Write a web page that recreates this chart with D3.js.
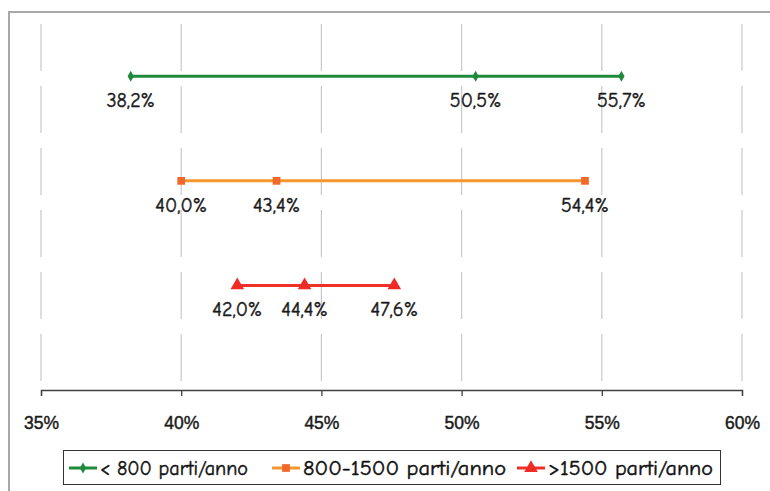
<!DOCTYPE html>
<html><head><meta charset="utf-8">
<script src="https://cdn.jsdelivr.net/npm/d3@7"></script>
<style>
body{margin:0;background:#fff;}
svg{display:block;font-family:"Comic Sans MS","Comic Neue","DejaVu Sans",sans-serif;}
</style></head>
<body><svg id="c" width="770" height="491"></svg>
<script>
const seriesNames = ["< 800 parti/anno", "800-1500 parti/anno", ">1500 parti/anno"];
const seriesRows = [3, 2, 1];
const values1 = [38.2, 50.5, 55.7];
const values2 = [40.0, 43.4, 54.4];
const values3 = [42.0, 44.4, 47.6];
const xTicks = [35, 40, 45, 50, 55, 60];
const lineColors = ["#1f8a3c", "#f7962f", "#ef3027"];
const markerColors = ["#1f8a3c", "#f0692a", "#ee2b27"];
const markerTypes = [d3.symbolDiamond, d3.symbolSquare, d3.symbolTriangle];
const markerSizes = [34, 60, 80];

const allValues = [values1, values2, values3];
const svg = d3.select("#c");

// frame (top & left visible)
svg.append("path").attr("d","M9,491 V12 H770").attr("fill","none").attr("stroke","#a8a8a8").attr("stroke-width",2);

const x = d3.scaleLinear().domain([35,60]).range([41,742]);
const y = d3.scaleLinear().domain([0,3.5]).range([390,24]);

// grid
svg.append("g").selectAll("line").data(xTicks).join("line")
  .attr("x1",d=>x(d)).attr("x2",d=>x(d)).attr("y1",24).attr("y2",389)
  .attr("stroke","#c8c8c8").attr("stroke-width",1.2).attr("stroke-dasharray","47,15");

function styleText(sel, size, color){
  sel.attr("font-size",size).attr("fill",color).attr("stroke",color)
     .attr("stroke-width",0.45).attr("font-family","inherit");
}

// axis
const ax = svg.append("g").attr("transform","translate(0,390)")
  .call(d3.axisBottom(x).tickValues(xTicks).tickSize(6).tickPadding(21).tickFormat(d=>d+"%"));
ax.select(".domain").attr("stroke","#404040").attr("stroke-width",1.3);
ax.selectAll(".tick line").attr("stroke","#404040").attr("stroke-width",1.3);
styleText(ax.selectAll("text"), 17.5, "#1a1a1a");

// series
allValues.forEach((vals,i)=>{
  const row = seriesRows[i];
  const g = svg.append("g");
  g.append("path").datum(vals)
    .attr("d", d3.line().x(d=>x(d)).y(()=>y(row)))
    .attr("stroke",lineColors[i]).attr("stroke-width",3).attr("fill","none");
  g.selectAll("path.m").data(vals).join("path").attr("class","m")
    .attr("transform",d=>`translate(${x(d)},${y(row)})`)
    .attr("d", d3.symbol().type(markerTypes[i]).size(markerSizes[i]))
    .attr("fill",markerColors[i]);
  const t = g.selectAll("text").data(vals).join("text")
    .attr("x",d=>x(d)).attr("y",y(row)+31)
    .attr("text-anchor","middle")
    .text(d=>d.toFixed(1).replace(".",",")+"%");
  styleText(t, 20, "#1a1a1a");
});

// legend
const lg = svg.append("g");
lg.append("rect").attr("x",63.5).attr("y",450.5).attr("width",657).attr("height",34)
  .attr("fill","#fff").attr("stroke","#333").attr("stroke-width",1);
const legX = [69, 272, 517];
const legTextLen = [148, 203, 165];
seriesNames.forEach((n,i)=>{
  const gi = lg.append("g").attr("transform",`translate(${legX[i]},468)`);
  gi.append("line").attr("x1",0).attr("x2",28).attr("stroke",lineColors[i]).attr("stroke-width",3);
  gi.append("path").attr("transform","translate(14,0)")
    .attr("d", d3.symbol().type(markerTypes[i]).size(markerSizes[i])).attr("fill",markerColors[i]);
  const t = gi.append("text").attr("x",31).attr("y",7)
    .attr("textLength",legTextLen[i]).attr("lengthAdjust","spacingAndGlyphs").text(n);
  styleText(t, 21, "#111");
});
</script></body></html>
